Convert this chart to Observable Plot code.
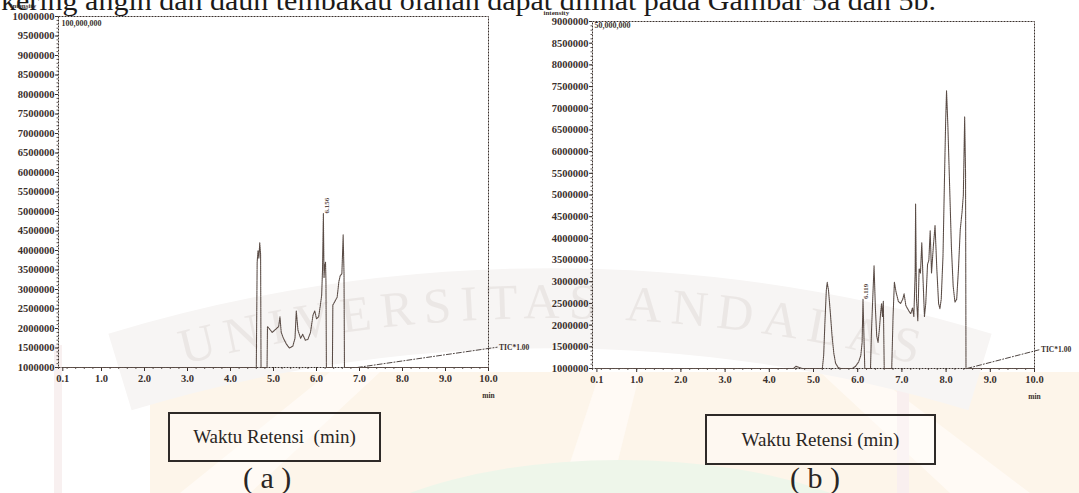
<!DOCTYPE html>
<html><head><meta charset="utf-8">
<script src="https://cdn.jsdelivr.net/npm/d3@7"></script>
<script src="https://cdn.jsdelivr.net/npm/@observablehq/plot@0.6"></script>
<style>
html,body{margin:0;padding:0;background:#fff;}
#page{position:relative;width:1079px;height:493px;overflow:hidden;background:#fff;font-family:"Liberation Serif","Times New Roman",serif;}
#bg{position:absolute;left:0;top:0;}
.chart{position:absolute;top:0;}
#chartA{left:0;}
#chartB{left:540px;}
.cap{position:absolute;border:2px solid #2e2a28;box-sizing:border-box;font-family:"Liberation Serif","Times New Roman",serif;font-size:19px;color:#2a2624;display:flex;align-items:center;justify-content:center;white-space:pre;background:rgba(255,255,255,0.35);}
.sub{position:absolute;font-family:"Liberation Serif","Times New Roman",serif;font-size:30px;line-height:1.15;color:#2a2624;white-space:pre;}
</style></head>
<body><div id="page">
<svg id="bg" width="1079" height="493">
  <rect x="150" y="372" width="929" height="121" fill="#fdf5ea"/>
  <polygon points="180,493 330,372 380,372 250,493" fill="#fffaf5"/>
  <polygon points="560,493 600,372 640,372 610,493" fill="#fffaf5"/>
  <polygon points="950,493 820,372 870,372 1030,493" fill="#fffaf5"/>
  <ellipse cx="620" cy="575" rx="300" ry="115" fill="#eef6ea"/>
  <rect x="54" y="345" width="8" height="148" fill="#f8f0f0"/>
  <rect x="897" y="385" width="12" height="108" fill="#f9efef"/>
  <path d="M120,372 A1480,1480 0 0,1 980,372" stroke="#f7f5f4" stroke-width="80" fill="none"/>
  <path id="wmArc" d="M120,382 A1480,1480 0 0,1 980,382" fill="none"/>
  <text font-family="Liberation Serif" font-size="50" fill="#ebe7e5"><textPath href="#wmArc" startOffset="66" textLength="740" lengthAdjust="spacing">UNIVERSITAS ANDALAS</textPath></text>
  <text x="1" y="10" font-family="Liberation Serif" font-size="27" fill="#1c1a19" textLength="935" lengthAdjust="spacingAndGlyphs">kering angin dan daun tembakau olahan dapat dilihat pada Gambar 5a dan 5b.</text>
</svg>
<div id="chartA" class="chart"></div>
<div id="chartB" class="chart"></div>
<div class="cap" style="left:168px;top:412px;width:213px;height:50px;">Waktu Retensi  (min)</div>
<div class="cap" style="left:705px;top:414px;width:231px;height:51px;">Waktu Retensi (min)</div>
<div class="sub" style="left:243px;top:461px;">( a )</div>
<div class="sub" style="left:790px;top:461px;">( b )</div>
</div>
<script>
// ---- data ----
const xTicks = [0.1, 1, 2, 3, 4, 5, 6, 7, 8, 9, 10];

const yTicksA = [1000000, 1500000, 2000000, 2500000, 3000000, 3500000, 4000000, 4500000, 5000000, 5500000,
  6000000, 6500000, 7000000, 7500000, 8000000, 8500000, 9000000, 9500000, 10000000];
const yTicksB = [1000000, 1500000, 2000000, 2500000, 3000000, 3500000, 4000000, 4500000, 5000000, 5500000,
  6000000, 6500000, 7000000, 7500000, 8000000, 8500000, 9000000];

// (a) chromatogram
const timeA = [0.1, 4.60, 4.62, 4.64, 4.66, 4.68, 4.70, 4.71, 4.85, 4.86, 4.90, 4.97, 5.05, 5.12, 5.15, 5.18,
  5.23, 5.30, 5.37, 5.45, 5.50, 5.53, 5.57, 5.63, 5.68, 5.74, 5.80, 5.86, 5.92, 5.96, 6.00, 6.05, 6.09,
  6.12, 6.14, 6.16, 6.175, 6.19, 6.21, 6.22, 6.23, 6.37, 6.38, 6.43, 6.48, 6.52, 6.55, 6.59, 6.62, 6.64,
  6.65, 10.0];
const intensityA = [1000000, 1000000, 3700000, 4000000, 3800000, 4200000, 3900000, 1000000, 1000000, 2050000,
  2000000, 1900000, 1980000, 2050000, 2300000, 1900000, 1750000, 1600000, 1500000, 1550000, 1750000,
  2450000, 1950000, 1750000, 1850000, 1700000, 1720000, 1900000, 2350000, 2450000, 2250000, 2300000,
  2600000, 2850000, 3500000, 4950000, 3300000, 3600000, 3700000, 3200000, 1000000, 1000000, 2600000,
  2700000, 2800000, 3200000, 3350000, 3400000, 4400000, 3400000, 1000000, 1000000];
const ticTimeA = [6.95, 10.2];
const ticIntensityA = [1000000, 1520000];
const peakTimeA = [6.16];
const peakIntensityA = [4950000];
const peakTextA = ["6.156"];

// (b) chromatogram
const timeB = [0.1, 4.55, 4.60, 4.66, 4.75, 5.20, 5.23, 5.26, 5.29, 5.31, 5.34, 5.38, 5.42, 5.46, 5.50, 5.56,
  5.62, 5.88, 5.95, 6.02, 6.07, 6.10, 6.12, 6.14, 6.16, 6.29, 6.31, 6.34, 6.37, 6.40, 6.43, 6.46, 6.49,
  6.52, 6.54, 6.56, 6.58, 6.60, 6.77, 6.80, 6.83, 6.87, 6.92, 6.97, 7.02, 7.05, 7.09, 7.15, 7.20, 7.24,
  7.27, 7.30, 7.31, 7.33, 7.36, 7.39, 7.42, 7.45, 7.48, 7.51, 7.54, 7.58, 7.61, 7.64, 7.67, 7.71, 7.75,
  7.79, 7.83, 7.86, 7.89, 7.93, 7.96, 7.99, 8.01, 8.04, 8.08, 8.12, 8.16, 8.20, 8.24, 8.28, 8.32, 8.36,
  8.39, 8.42, 8.44, 8.45, 10.0];
const intensityB = [1000000, 1000000, 1050000, 1030000, 1000000, 1000000, 1300000, 2100000, 2800000, 2990000,
  2800000, 2300000, 1750000, 1350000, 1120000, 1020000, 1000000, 1000000, 1050000, 1150000, 1300000,
  1600000, 2600000, 1800000, 1000000, 1000000, 1800000, 2600000, 3370000, 2400000, 1750000, 1600000,
  1900000, 2300000, 2500000, 2200000, 2550000, 1000000, 1000000, 2200000, 2990000, 2750000, 2550000,
  2500000, 2600000, 2720000, 2450000, 2340000, 2260000, 2400000, 2200000, 3200000, 4790000, 2600000,
  2100000, 3300000, 3200000, 3900000, 3000000, 2200000, 2500000, 3400000, 3500000, 4180000, 3200000,
  3800000, 4300000, 3300000, 2500000, 2380000, 2600000, 3600000, 5200000, 6700000, 7400000, 6600000,
  5200000, 3800000, 2900000, 2530000, 2600000, 3300000, 4200000, 4600000, 5000000, 6800000, 5500000,
  1000000, 1000000];
const ticTimeB = [8.47, 10.1];
const ticIntensityB = [1000000, 1430000];
const peakTimeB = [6.12];
const peakIntensityB = [2600000];
const peakTextB = ["6.119"];

// ---- drawing ----
const ink = "#3a302c";
const trace = "#5a4c46";
function chromatogram(o) {
  const data = o.times.map((t, i) => ({t, v: o.values[i]}));
  const tic = o.ticT.map((t, i) => ({t, v: o.ticV[i]}));
  const peaks = o.peakT.map((t, i) => ({t, v: o.peakV[i], label: o.peakText[i]}));
  const yMax = o.yTicks[o.yTicks.length - 1];
  return Plot.plot({
    width: o.width, height: o.height,
    marginTop: o.mTop, marginBottom: o.mBottom, marginLeft: o.mLeft, marginRight: o.mRight,
    style: {fontFamily: '"Liberation Serif", "Times New Roman", serif', fontSize: "10.5px", fontWeight: "bold", color: ink,
      background: "transparent", overflow: "visible"},
    x: {domain: [0, 10]},
    y: {domain: [1000000, yMax]},
    marks: [
      Plot.axisY({ticks: d3.range(1000000, yMax + 1, 100000), tickSize: 1.5, tickFormat: () => "", label: null, strokeWidth: 0.8}),
      Plot.axisY({ticks: o.yTicks, tickSize: 3, tickPadding: 1, tickFormat: d => String(d), label: null}),
      Plot.axisX({ticks: d3.range(0, 10.001, 0.2), tickSize: 2, tickFormat: () => "", label: null, strokeWidth: 0.8}),
      Plot.axisX({ticks: xTicks, tickSize: 4, tickPadding: 3, tickFormat: d => d.toFixed(1), label: null}),
      Plot.frame({stroke: ink, strokeDasharray: "2 1", strokeWidth: 1}),
      Plot.line(tic, {x: "t", y: "v", stroke: ink, strokeWidth: 0.9, strokeDasharray: "5 2 1 2"}),
      Plot.line(data, {x: "t", y: "v", stroke: trace, strokeWidth: 1.1, strokeDasharray: "1.3 0.8"}),
      Plot.text(peaks, {x: "t", y: "v", text: "label", rotate: -90, textAnchor: "start", dx: 3, fontSize: 7, letterSpacing: 1.6, fill: trace}),
      Plot.text([tic[tic.length - 1]], {x: "t", y: "v", text: () => "TIC*1.00", textAnchor: "start", dx: 2, fontSize: 7.5}),
      Plot.text(["intensity"], {frameAnchor: "top-left", text: d => d, textAnchor: "start", lineAnchor: "middle", dx: o.intDx, dy: o.intDy, fontSize: 7}),
      Plot.text([o.scaleText], {frameAnchor: "top-left", text: d => d, textAnchor: "start", lineAnchor: "middle", dx: o.scaleDx, dy: o.scaleDy, fontSize: 8}),
      Plot.text(["min"], {frameAnchor: "bottom-right", text: d => d, textAnchor: "middle", lineAnchor: "middle", dy: 28, fontSize: 7.5})
    ]
  });
}

document.getElementById("chartA").append(chromatogram({
  times: timeA, values: intensityA, ticT: ticTimeA, ticV: ticIntensityA,
  peakT: peakTimeA, peakV: peakIntensityA, peakText: peakTextA, yTicks: yTicksA,
  width: 540, height: 400, mTop: 16, mBottom: 33, mLeft: 58, mRight: 52,
  scaleText: "100,000,000", scaleDx: 3, scaleDy: 7, intDx: -48, intDy: -10.5
}));
document.getElementById("chartB").append(chromatogram({
  times: timeB, values: intensityB, ticT: ticTimeB, ticV: ticIntensityB,
  peakT: peakTimeB, peakV: peakIntensityB, peakText: peakTextB, yTicks: yTicksB,
  width: 539, height: 400, mTop: 21, mBottom: 32, mLeft: 52, mRight: 45,
  scaleText: "50,000,000", scaleDx: 2, scaleDy: 4, intDx: -49, intDy: -9
}));
</script>
</body></html>
